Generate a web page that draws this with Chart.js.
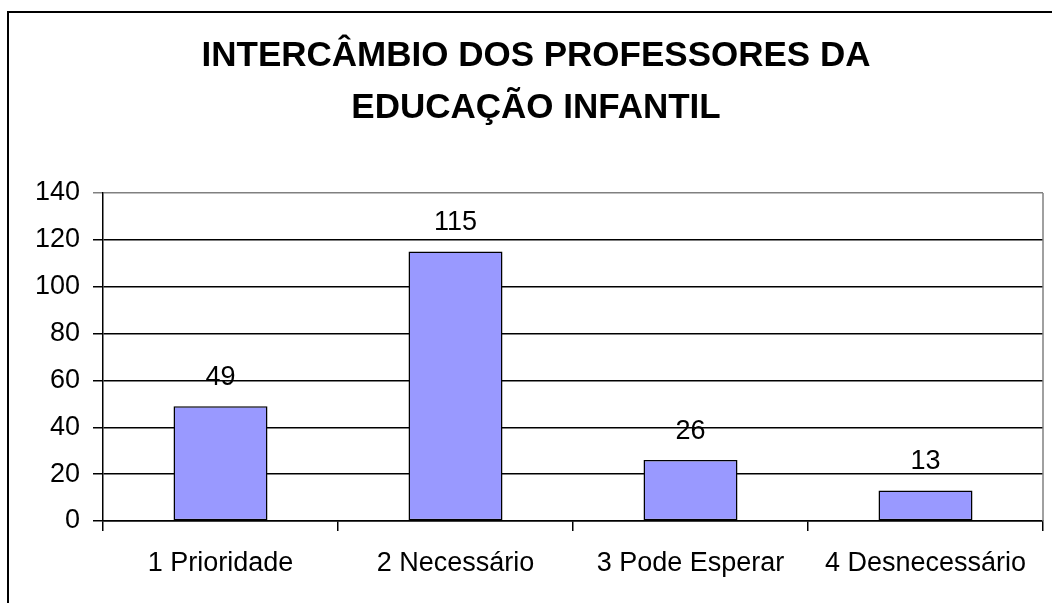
<!DOCTYPE html>
<html>
<head>
<meta charset="utf-8">
<script src="https://cdn.jsdelivr.net/npm/chart.js@4/dist/chart.umd.min.js"></script>
<style>
  html, body { margin: 0; padding: 0; background: #fff; overflow: hidden; }
  canvas { display: block; }
</style>
</head>
<body>
<canvas id="chart" width="1072" height="603"></canvas>
<script>
const titleLines = ["INTERCÂMBIO DOS PROFESSORES DA", "EDUCAÇÃO INFANTIL"];
const categories = ["1 Prioridade", "2 Necessário", "3 Pode Esperar", "4 Desnecessário"];
const answers = [49, 115, 26, 13];
const yTicks = [0, 20, 40, 60, 80, 100, 120, 140];

// Outer frame of the chart (right and bottom edges fall outside the picture)
const framePlugin = {
  id: "frame",
  beforeDraw(chart) {
    const c = chart.ctx;
    c.save();
    c.fillStyle = "#fff";
    c.fillRect(0, 0, chart.width, chart.height);
    c.strokeStyle = "#000";
    c.lineWidth = 2;
    c.beginPath();
    c.moveTo(8, chart.height + 5);
    c.lineTo(8, 12);
    c.lineTo(chart.width + 5, 12);
    c.stroke();
    c.restore();
  },
  afterDraw(chart) {
    // gray right border of the plot area
    const a = chart.chartArea;
    const c = chart.ctx;
    c.save();
    c.strokeStyle = "#808080";
    c.lineWidth = 1.5;
    c.beginPath();
    c.moveTo(a.right, a.top);
    c.lineTo(a.right, a.bottom);
    c.stroke();
    c.restore();
  }
};

// Value labels above each bar
const valueLabels = {
  id: "valueLabels",
  afterDatasetsDraw(chart) {
    const c = chart.ctx;
    const meta = chart.getDatasetMeta(0);
    c.save();
    c.font = "27px 'Liberation Sans'";
    c.fillStyle = "#000";
    c.textAlign = "center";
    c.textBaseline = "middle";
    meta.data.forEach((bar, i) => {
      c.fillText(String(answers[i]), bar.x, bar.y - 29);
    });
    c.restore();
  }
};

new Chart(document.getElementById("chart"), {
  type: "bar",
  data: {
    labels: categories,
    datasets: [{
      data: answers,
      backgroundColor: "#9999FF",
      borderColor: "#000",
      borderWidth: 1.5,
      borderSkipped: false,
      barPercentage: 0.4,
      categoryPercentage: 1
    }]
  },
  options: {
    responsive: false,
    animation: false,
    devicePixelRatio: 1,
    layout: { padding: { top: 12, left: 29, right: 29, bottom: 0 } },
    plugins: {
      legend: { display: false },
      tooltip: { enabled: false },
      title: {
        display: true,
        text: titleLines,
        color: "#000",
        font: { family: "'Liberation Sans'", size: 35, weight: "bold", lineHeight: 1.5 },
        padding: { top: 18, bottom: 58 }
      }
    },
    scales: {
      x: {
        afterFit(scale) { scale.height = 82; },
        grid: {
          offset: true,
          drawOnChartArea: false,
          drawTicks: true,
          tickLength: 10,
          color: "#000",
          lineWidth: 1.5
        },
        border: { display: true, color: "#000", width: 1.5 },
        ticks: {
          color: "#000",
          padding: 16,
          font: { family: "'Liberation Sans'", size: 27 },
          maxRotation: 0
        }
      },
      y: {
        min: 0,
        max: 140,
        afterFit(scale) { scale.width = 74; },
        afterBuildTicks(scale) { scale.ticks = yTicks.map(v => ({ value: v })); },
        grid: {
          drawTicks: true,
          tickLength: 10,
          color: ctx => (ctx.tick && ctx.tick.value === 140 ? "#808080" : "#000"),
          lineWidth: 1.5
        },
        border: { display: true, color: "#000", width: 1.5 },
        ticks: {
          color: "#000",
          padding: 13,
          font: { family: "'Liberation Sans'", size: 27 }
        }
      }
    }
  },
  plugins: [framePlugin, valueLabels]
});
</script>
</body>
</html>
